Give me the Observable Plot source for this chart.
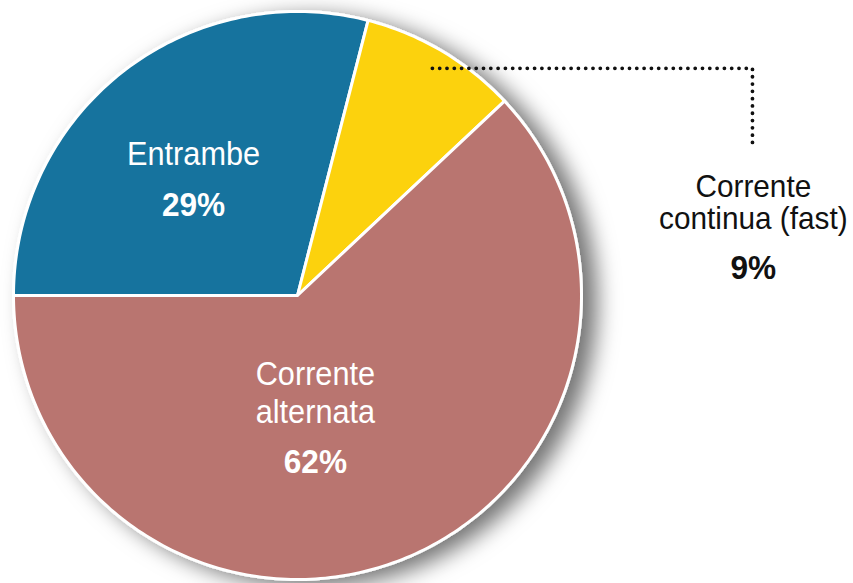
<!DOCTYPE html>
<html>
<head>
<meta charset="utf-8">
<script src="https://cdn.jsdelivr.net/npm/d3@7"></script>
<script src="https://cdn.jsdelivr.net/npm/@observablehq/plot@0.6"></script>
<style>
  html, body { margin: 0; padding: 0; background: #fff; }
  svg { display: block; }
</style>
</head>
<body>
<div id="chart"></div>
<script>
// ---- data ----
const categories = ["Entrambe", "Corrente continua (fast)", "Corrente alternata"];
const values = [29, 9, 62];
const nameLabels = ["Entrambe", "Corrente\ncontinua (fast)", "Corrente\nalternata"];
const colors = ["#15739e", "#fcd20f", "#b9756f"];

// ---- layout (unit-circle coordinates) ----
const startAngle = -90; // degrees, clockwise from north
const labelLayout = [
  {name: [-0.366, 0.504], pct: [-0.366, 0.317], fill: "white", lh: 1.3},
  {name: [1.605, 0.327], pct: [1.605, 0.095], fill: "#111", lh: 1.1},
  {name: [0.063, -0.338], pct: [0.063, -0.588], fill: "white", lh: 1.3}
];
const leader = [[0.475, 0.80], [1.602, 0.80], [1.602, 0.521]];

// ---- wedges built from values ----
const total = d3.sum(values);
const wedgePts = [];
let acc = startAngle;
values.forEach((v, i) => {
  const a0 = acc, a1 = acc + v / total * 360;
  acc = a1;
  wedgePts.push({cat: categories[i], x: 0, y: 0});
  const n = Math.max(2, Math.ceil(a1 - a0));
  for (let k = 0; k <= n; k++) {
    const a = (a0 + (a1 - a0) * k / n) * Math.PI / 180;
    wedgePts.push({cat: categories[i], x: Math.sin(a), y: Math.cos(a)});
  }
  wedgePts.push({cat: categories[i], x: 0, y: 0});
});

const nameData = categories.map((c, i) => ({text: nameLabels[i], x: labelLayout[i].name[0], y: labelLayout[i].name[1], fill: labelLayout[i].fill, lh: labelLayout[i].lh}));
const pctData = categories.map((c, i) => ({text: values[i] + "%", x: labelLayout[i].pct[0], y: labelLayout[i].pct[1], fill: labelLayout[i].fill}));

const font = "'Liberation Sans', Arial, Helvetica, sans-serif";

const plot = Plot.plot({
  width: 853,
  height: 583,
  margin: 0,
  style: {background: "white", overflow: "visible"},
  x: {domain: [-1, 1], range: [13, 581], axis: null},
  y: {domain: [-1, 1], range: [579, 11], axis: null},
  color: {domain: categories, range: colors},
  marks: [
    Plot.line(wedgePts, {x: "x", y: "y", z: "cat", fill: "cat", stroke: "white", strokeWidth: 3, strokeLinejoin: "round"}),
    Plot.line(leader, {x: d => d[0], y: d => d[1], stroke: "#111", strokeWidth: 3.8, strokeLinecap: "round", strokeDasharray: "0,7.3"}),
    Plot.text(nameData.filter(d => d.lh > 1.2), {x: "x", y: "y", text: "text", fill: "fill", fontSize: 33, fontFamily: font, lineHeight: 1.15, lineAnchor: "middle"}),
    Plot.text(nameData.filter(d => d.lh <= 1.2), {x: "x", y: "y", text: "text", fill: "fill", fontSize: 32, fontFamily: font, lineHeight: 1.0, lineAnchor: "middle"}),
    Plot.text(pctData, {x: "x", y: "y", text: "text", fill: "fill", fontSize: 34, fontWeight: "bold", fontFamily: font, lineAnchor: "middle"})
  ]
});

// condensed look: narrow each label around its own anchor
const svg = d3.select(plot);
svg.selectAll('g[aria-label="text"] text').each(function () {
  const t = this.getAttribute("transform");
  if (t) this.setAttribute("transform", t + " scale(0.93,1)");
});

// soft drop shadow behind the pie
const defs = svg.insert("defs", ":first-child");
const f = defs.append("filter").attr("id", "pieShadow").attr("x", "-20%").attr("y", "-20%").attr("width", "140%").attr("height", "140%");
f.append("feDropShadow").attr("dx", 14).attr("dy", 6).attr("stdDeviation", 11).attr("flood-color", "#000").attr("flood-opacity", 0.55);
svg.select('g[aria-label="line"]').attr("filter", "url(#pieShadow)");

document.getElementById("chart").appendChild(plot);
</script>
</body>
</html>
